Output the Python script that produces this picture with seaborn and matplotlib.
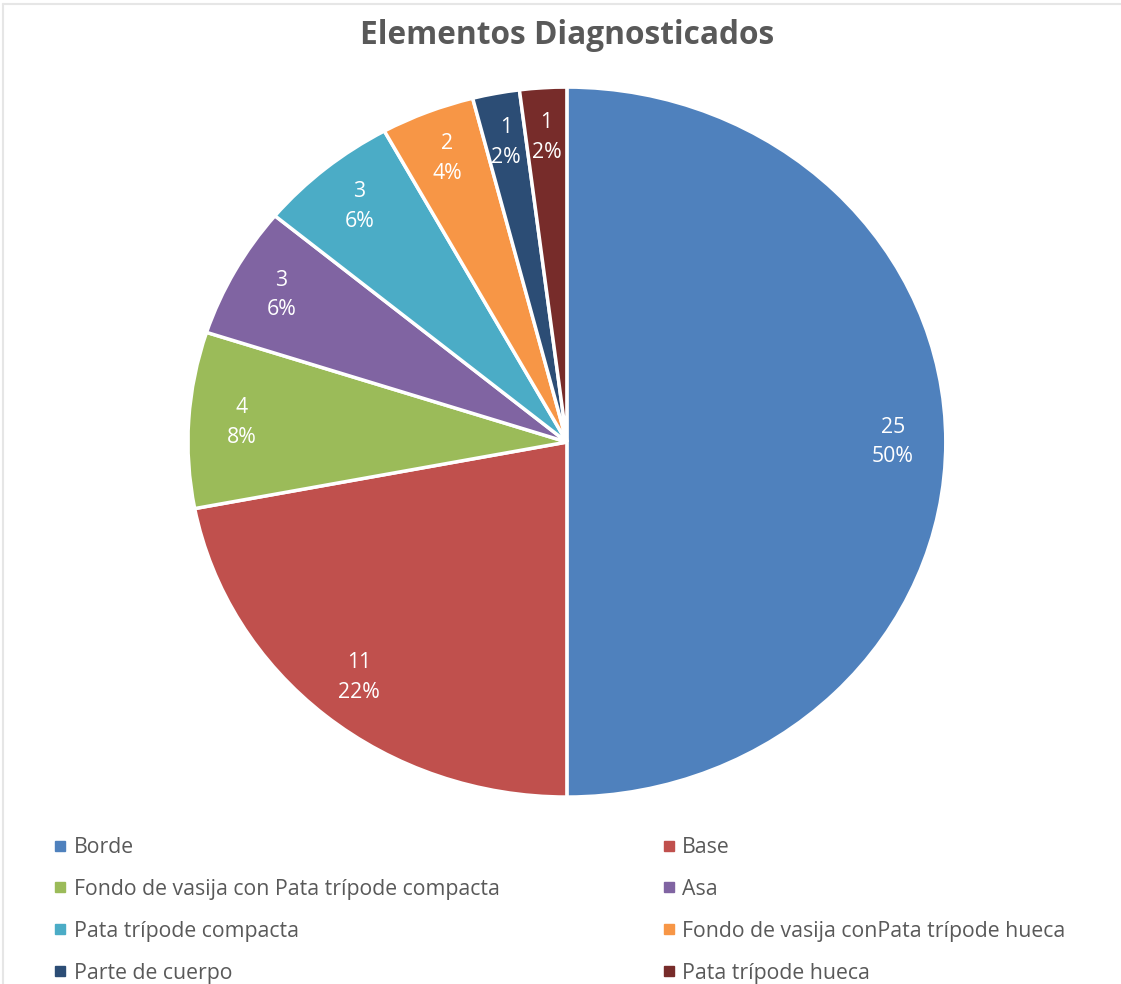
import matplotlib
matplotlib.use("Agg")
import matplotlib.pyplot as plt
import seaborn as sns
from matplotlib.lines import Line2D
import numpy as np

categories = ["Borde", "Base", "Fondo de vasija con Pata trípode compacta", "Asa",
              "Pata trípode compacta", "Fondo de vasija conPata trípode hueca",
              "Parte de cuerpo", "Pata trípode hueca"]
values = [25, 11, 4, 3, 3, 2, 1, 1]
colors = ["#4F81BD", "#C0504D", "#9BBB59", "#8064A2", "#4BACC6", "#F79646",
          "#2C4D75", "#772C2A"]

sns.set_theme(style="white")
plt.rcParams["font.family"] = ["Open Sans", "DejaVu Sans"]

fig = plt.figure(figsize=(11.21, 9.84), dpi=100)
ax = fig.add_axes([0.1677, 0.190, 0.676, 0.7215])

total = sum(values)
wedges, _ = ax.pie(values, colors=colors, startangle=90, counterclock=False,
                   wedgeprops=dict(edgecolor="white", linewidth=2.5))
ax.set_aspect("auto")
ax.set_xlim(-1, 1)
ax.set_ylim(-1, 1)
ax.axis("off")

for w, v in zip(wedges, values):
    ang = np.deg2rad((w.theta1 + w.theta2) / 2)
    d = 0.86
    x, y = d * np.cos(ang), d * np.sin(ang)
    ax.text(x, y, f"{v}\n{round(100 * v / total)}%", ha="center", va="center",
            color="white", fontsize=15.3, linespacing=1.55)

fig.text(0.506, 0.964, "Elementos Diagnosticados", ha="center", va="center",
         fontsize=22.8, fontweight="bold", color="#595959")

handles = [Line2D([], [], marker="s", linestyle="", markersize=6.8,
                  markerfacecolor=c, markeredgecolor=c) for c in colors]
order = list(range(0, 8, 2)) + list(range(1, 8, 2))
leg = fig.legend([handles[i] for i in order], [categories[i] for i in order],
                 loc="lower left", bbox_to_anchor=(0.043, -0.006, 0.913, 0.16),
                 mode="expand", ncol=2, frameon=False, fontsize=15.3,
                 handlelength=0.55, handletextpad=0.35, labelspacing=0.98,
                 borderaxespad=0.0, borderpad=0.3, labelcolor="#595959")

fig.add_artist(Line2D([0.003, 1], [0.996, 0.996], color="#E6E6E6", lw=1.5,
                      transform=fig.transFigure))
fig.add_artist(Line2D([0.003, 0.003], [0, 0.996], color="#E6E6E6", lw=1.5,
                      transform=fig.transFigure))

fig.savefig("out.png", dpi=100, facecolor="white")
